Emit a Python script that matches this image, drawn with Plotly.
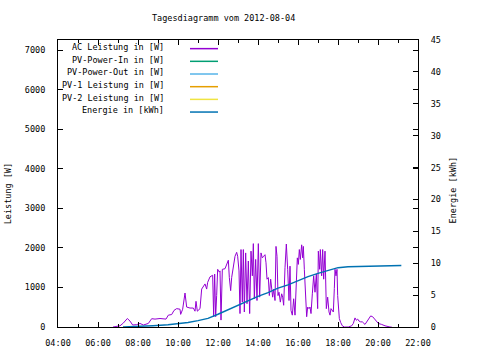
import plotly.graph_objects as go

DATE = "2012-08-04"

# AC Leistung in [W]
ac_times = ["06:45","06:55","07:06","07:16","07:28","07:36","07:44","07:56","08:06","08:16",
            "08:31","08:41","08:51","09:06","09:16","09:24","09:31","09:41","09:48","09:56",
            "10:06","10:08","10:14","10:21","10:26","10:36","10:46","10:51","10:54","10:58",
            "11:06","11:11","11:21","11:26","11:29","11:36","11:44","11:47","11:50","11:53",
            "11:56","11:59","12:04","12:06","12:09","12:13","12:21","12:26","12:31","12:34",
            "12:38","12:41","12:46","12:51","12:56","12:59","13:03","13:06","13:09","13:13",
            "13:16","13:19","13:23","13:27","13:31","13:35","13:39","13:43","13:46","13:49",
            "13:53","13:57","14:01","14:05","14:09","14:13","14:17","14:21","14:24","14:27",
            "14:31","14:34","14:38","14:41","14:44","14:47","14:51","14:54","14:57","15:00",
            "15:03","15:07","15:11","15:14","15:17","15:21","15:25","15:29","15:33","15:36",
            "15:39","15:43","15:47","15:51","15:55","15:58","16:01","16:04","16:07","16:11",
            "16:14","16:16","16:19","16:23","16:26","16:29","16:33","16:36","16:39","16:43",
            "16:47","16:51","16:55","16:59","17:01","17:05","17:07","17:11","17:14","17:17",
            "17:21","17:25","17:29","17:33","17:36","17:39","17:43","17:46","17:49","17:51",
            "17:54","17:57","17:59","18:01","18:04","18:08","18:13","18:19","18:31","18:41",
            "18:46","18:51","18:55","18:59","19:03","19:08","19:13","19:21","19:31","19:38",
            "19:44","19:51","20:01","20:11","20:21","20:36","20:41"]
ac_values = [0,10,30,100,215,150,50,60,90,50,
             90,210,200,215,210,200,300,315,420,465,
             450,320,450,860,505,480,480,400,650,400,
             465,960,1090,960,1130,1270,1310,260,1340,260,
             800,1460,1390,1420,175,1460,1475,1585,1690,1250,
             920,1250,1585,1790,1890,1790,1420,340,1960,630,
             1960,380,1875,590,1670,340,1920,1295,2110,715,
             1710,670,2110,755,1875,1750,1790,1830,1625,1210,
             1250,795,1210,960,755,960,670,2040,1790,795,
             880,630,840,755,550,1500,2100,1460,670,1540,
             420,300,715,300,1460,1750,1585,1960,1710,2080,
             1750,2040,1460,670,260,505,465,505,340,840,
             1295,880,1340,465,1920,1460,1960,1295,1960,1210,
             1920,465,755,380,300,465,420,380,975,1460,
             1295,1460,795,380,215,115,30,0,0,30,
             90,230,170,200,150,130,130,65,175,280,
             260,200,90,65,30,0,0]

# Energie in [kWh]
en_times = ["07:15","08:00","08:45","09:30","10:00","10:30","11:00","11:30","12:00","12:30",
            "13:00","13:30","14:00","14:30","15:00","15:30","16:00","16:30","17:00","17:30",
            "18:00","18:30","19:00","20:00","21:10"]
en_values = [0.0,0.05,0.2,0.35,0.5,0.7,1.0,1.35,2.0,2.7,
             3.5,4.2,4.8,5.4,6.1,6.6,7.3,7.9,8.4,8.9,
             9.3,9.45,9.5,9.6,9.65]

legend_names = ["AC Leistung in [W]", "PV-Power-In in [W]", "PV-Power-Out in [W]",
                "PV-1 Leistung in [W]", "PV-2 Leistung in [W]", "Energie in [kWh]"]
legend_colors = ["#9400d3", "#009e73", "#56b4e9", "#e69f00", "#f0e442", "#0072b2"]

title_text = "Tagesdiagramm vom 2012-08-04"
y1_title = "Leistung [W]"
y2_title = "Energie [kWh]"

FONT = dict(family="DejaVu Sans Mono", size=8.5, color="black")

# plot area geometry in px
L, R, T, B = 58, 418, 40, 332
W, H = R - L, B - T

def px_x(x):
    return (x - L) / W

def px_y(y):
    return (B - y) / H

fig = go.Figure()
fig.add_trace(go.Scatter(x=[f"{DATE} {t}" for t in ac_times], y=ac_values,
                         mode="lines", line=dict(color=legend_colors[0], width=1),
                         name=legend_names[0], showlegend=False))
fig.add_trace(go.Scatter(x=[f"{DATE} {t}" for t in en_times], y=en_values,
                         mode="lines", line=dict(color=legend_colors[5], width=1.4),
                         name=legend_names[5], yaxis="y2", showlegend=False))

annotations = []
shapes = []
for i, (name, col) in enumerate(zip(legend_names, legend_colors)):
    ytxt = 47 + 12.9 * i
    yln = 48.8 + 12.9 * i
    annotations.append(dict(text=name, xref="paper", yref="paper", x=px_x(166), y=px_y(ytxt),
                            xanchor="right", yanchor="middle", showarrow=False, font=FONT))
    shapes.append(dict(type="line", xref="paper", yref="paper", x0=px_x(190), x1=px_x(218),
                       y0=px_y(yln), y1=px_y(yln), line=dict(color=col, width=1.5)))

annotations.append(dict(text=title_text, xref="paper", yref="paper", x=px_x(223), y=px_y(18),
                        xanchor="center", yanchor="middle", showarrow=False, font=FONT))
annotations.append(dict(text=y1_title, xref="paper", yref="paper", x=px_x(8), y=px_y(197),
                        xanchor="center", yanchor="middle", textangle=-90, showarrow=False, font=FONT))
annotations.append(dict(text=y2_title, xref="paper", yref="paper", x=px_x(453), y=px_y(193),
                        xanchor="center", yanchor="middle", textangle=-90, showarrow=False, font=FONT))

fig.update_layout(
    width=480, height=360,
    margin=dict(l=L, r=480 - R, t=T, b=360 - B, pad=0),
    paper_bgcolor="white", plot_bgcolor="white",
    font=FONT,
    showlegend=False,
    annotations=annotations,
    shapes=shapes,
    xaxis=dict(type="date", range=[f"{DATE} 04:00", f"{DATE} 22:00"],
               dtick=7200000, tick0=f"{DATE} 04:00", tickformat="%H:%M",
               ticks="inside", ticklen=5, tickcolor="black", tickwidth=1,
               minor=dict(dtick=3600000, ticks="inside", ticklen=3, tickcolor="black"),
               showline=True, linecolor="black", linewidth=1, mirror="ticks",
               showgrid=False, zeroline=False, ticklabelstandoff=8, tickfont=FONT),
    yaxis=dict(range=[0, 7264], dtick=1000, ticks="inside", ticklen=5, tickcolor="black",
               showline=True, linecolor="black", linewidth=1, mirror="ticks",
               showgrid=False, zeroline=False, ticklabelstandoff=10, tickfont=FONT),
    yaxis2=dict(range=[0, 45], dtick=5, overlaying="y", side="right",
                ticks="inside", ticklen=5, tickcolor="black",
                showline=True, linecolor="black", linewidth=1,
                showgrid=False, zeroline=False, ticklabelstandoff=10, tickfont=FONT),
)

fig.write_html("out.html", config={"displayModeBar": False},
               post_script="document.body.style.margin='0';document.body.style.padding='0';")
